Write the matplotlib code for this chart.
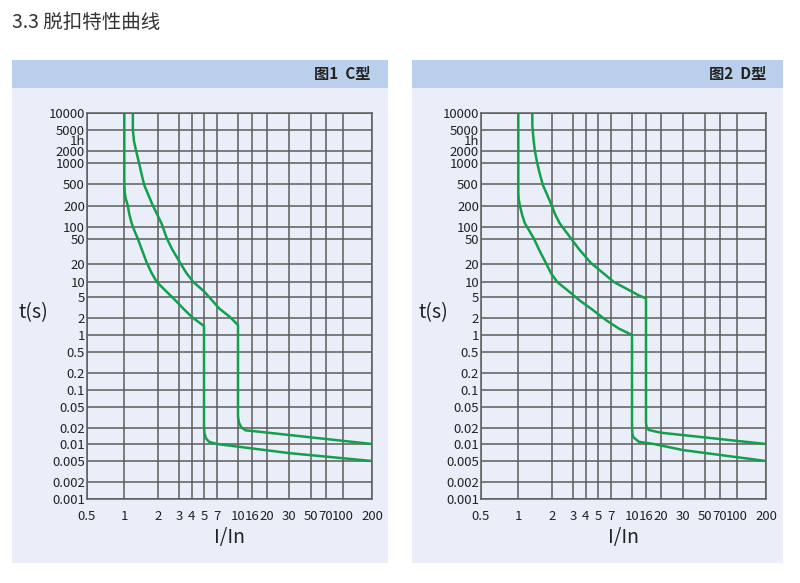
import numpy as np
import matplotlib
matplotlib.use('Agg')
import matplotlib.pyplot as plt
from matplotlib.patches import Rectangle

plt.rcParams['font.family'] = ['Noto Sans CJK SC', 'DejaVu Sans']

# tick values of the chart (the paper grid is not a true log grid)
x_ticks = [0.5, 1, 2, 3, 4, 5, 7, 10, 16, 20, 30, 50, 70, 100, 200]
x_labels = ['0.5', '1', '2', '3', '4', '5', '7', '10', '16', '20', '30', '50', '70', '100', '200']
y_ticks = [0.001, 0.002, 0.005, 0.01, 0.02, 0.05, 0.1, 0.2, 0.5, 1, 2, 5, 10,
           20, 50, 100, 200, 500, 1000, 2000, 5000, 10000]
y_labels = ['0.001', '0.002', '0.005', '0.01', '0.02', '0.05', '0.1', '0.2', '0.5', '1', '2', '5', '10',
            '20', '50', '100', '200', '500', '1000', '2000', '5000', '10000']
hour_tick = 3600

# C type curves: (I/In, t[s])
c_low_i = [1, 1, 1.01, 1.03, 1.07, 1.11, 1.16, 1.23, 1.31, 1.42, 1.58, 1.75, 1.94, 2.33, 2.76, 3.3, 4.0,
           5.0, 5.0, 5.05, 5.25, 5.7, 7.0, 30, 200]
c_low_t = [10000, 500, 350, 270, 210, 150, 114, 80, 53, 35, 21, 14, 10, 6.5, 4.4, 3.0, 2.1,
           1.44, 0.022, 0.016, 0.0128, 0.011, 0.01, 0.0069, 0.005]
c_high_i = [1.19, 1.19, 1.22, 1.27, 1.35, 1.42, 1.5, 1.63, 1.78, 1.96, 2.14, 2.35, 2.6, 3.05, 3.55, 4.12,
            5.0, 6.1, 7.3, 8.7, 10, 10, 10.35, 11.2, 13, 16, 200]
c_high_t = [10000, 5000, 3000, 2050, 1000, 700, 480, 320, 208, 150, 110, 53, 35, 21, 14, 10,
            6.5, 4.4, 3.0, 2.1, 1.5, 0.033, 0.025, 0.0205, 0.018, 0.0176, 0.01]

# D type curves
d_low_i = [1, 1, 1.01, 1.03, 1.08, 1.14, 1.27, 1.37, 1.55, 1.75, 1.95, 2.2, 2.75, 3.42, 4.5, 6.1, 8.0,
           10, 10, 10.1, 10.4, 12.6, 18, 30, 200]
d_low_t = [10000, 360, 260, 208, 150, 114, 75, 52, 32, 21, 14, 10, 6.5, 4.4, 2.9, 1.85, 1.3,
           1.0, 0.022, 0.016, 0.0135, 0.011, 0.01, 0.0078, 0.005]
d_high_i = [1.33, 1.33, 1.36, 1.4, 1.47, 1.55, 1.65, 1.8, 1.97, 2.12, 2.3, 2.85, 3.4, 4.37, 5.75, 7.35,
            10, 12.5, 16, 16, 16.15, 16.7, 20, 200]
d_high_t = [10000, 6100, 3500, 2050, 1000, 700, 480, 320, 208, 150, 114, 53, 35, 21, 14, 10,
            6.4, 5.4, 4.7, 0.025, 0.0205, 0.0183, 0.0163, 0.01]

# grid spacing of the printed paper (relative units)
x_grid_pos = [0, 37.3, 71.3, 92.3, 104.7, 117, 130, 151, 165, 180, 202, 224, 239, 256, 285]
y_grid_pos = [0, 17, 38, 55, 71, 92, 109, 126, 147, 164, 181, 202, 217, 235, 260, 272,
              293, 315, 336, 348, 369, 386]


def make_scale(vals, pos):
    lv = np.log10(vals)
    pos = np.asarray(pos, float)

    def fwd(v):
        v = np.clip(np.asarray(v, float), 1e-12, None)
        return np.interp(np.log10(v), lv, pos)

    def inv(p):
        return 10 ** np.interp(np.asarray(p, float), pos, lv)
    return fwd, inv


W, H = 800, 583
fig = plt.figure(figsize=(8, 5.83), dpi=100, facecolor='w')

fig.text(12 / W, 1 - 22 / H, '3.3 脱扣特性曲线', fontsize=14, color='#333333', va='center', ha='left')

panels = [
    (12, 388, 87, 372, '图1  C型', [(c_low_i, c_low_t), (c_high_i, c_high_t)]),
    (412, 783, 481, 766, '图2  D型', [(d_low_i, d_low_t), (d_high_i, d_high_t)]),
]

green = '#13a04c'
grid_c = '#5c5c5c'
txt_c = '#222222'

for (bx0, bx1, ax0, ax1, title, curves) in panels:
    fig.patches.append(Rectangle((bx0 / W, 1 - 563 / H), (bx1 - bx0) / W, (563 - 60) / H,
                                 transform=fig.transFigure, facecolor='#e9eef8', edgecolor='none', zorder=-5))
    fig.patches.append(Rectangle((bx0 / W, 1 - 88 / H), (bx1 - bx0) / W, 28 / H,
                                 transform=fig.transFigure, facecolor='#bacfeb', edgecolor='none', zorder=-4))
    fig.text((bx1 - 17) / W, 1 - 74 / H, title, fontsize=11, fontweight='bold', color=txt_c,
             ha='right', va='center')

    ax = fig.add_axes([ax0 / W, 1 - 499 / H, (ax1 - ax0) / W, (499 - 113) / H])
    ax.set_zorder(2)
    ax.set_facecolor('none')
    ax.set_xscale('function', functions=make_scale(x_ticks, x_grid_pos))
    ax.set_yscale('function', functions=make_scale(y_ticks, y_grid_pos))
    ax.set_xlim(0.5, 200)
    ax.set_ylim(0.001, 10000)

    ax.set_xticks(x_ticks, labels=x_labels)
    ax.set_yticks(y_ticks, labels=y_labels)
    ax.set_xticks([], minor=True)
    ax.set_yticks([], minor=True)
    ax.tick_params(axis='both', which='both', length=0, labelsize=9.5, colors=txt_c)
    ax.tick_params(axis='x', pad=8)
    ax.tick_params(axis='y', pad=1.5)
    ax.annotate('1h', xy=(0, hour_tick), xycoords=('axes fraction', 'data'), xytext=(-1.5, -2.5),
                textcoords='offset points', ha='right', va='center', fontsize=9.5, color=txt_c)
    ax.grid(True, which='major', color=grid_c, linewidth=1.1)
    for s in ax.spines.values():
        s.set_color(grid_c)
        s.set_linewidth(1.1)

    for ci, ct in curves:
        ax.plot(ci, ct, color=green, linewidth=1.8, solid_joinstyle='round')

    ax.set_xlabel('I/In', fontsize=14, color=txt_c, labelpad=3)
    ax.set_ylabel('t(s)', fontsize=14, color=txt_c, rotation=0, ha='center', va='center')
    ax.yaxis.set_label_coords(-(ax0 - (bx0 + 21)) / (ax1 - ax0), (499 - 313) / 386)

fig.savefig('out.png', dpi=100, facecolor='w')
